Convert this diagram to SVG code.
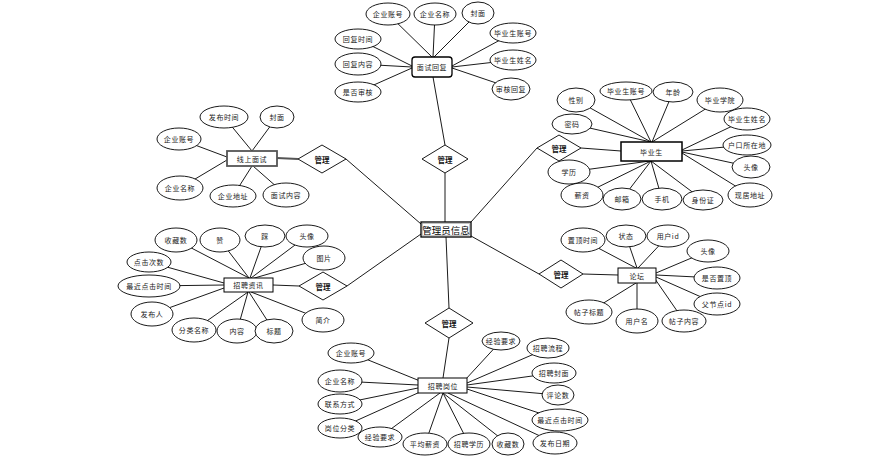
<svg xmlns="http://www.w3.org/2000/svg" width="870" height="466" viewBox="0 0 870 466">
<style>
.e{fill:#fff;stroke:#000;stroke-width:0.9}
.b{fill:#fff;stroke:#000;stroke-width:1}
.d{fill:#fff;stroke:#000;stroke-width:0.9}
.t{font-family:"Noto Sans CJK SC","Noto Sans",sans-serif;font-size:7px;fill:#222;text-anchor:middle;dominant-baseline:central;letter-spacing:0.6px}
.m{font-family:"Noto Sans CJK SC","Noto Sans",sans-serif;font-size:7.5px;fill:#111;text-anchor:middle;dominant-baseline:central;font-weight:bold}
.c line{stroke:#000;stroke-width:0.9}
</style>
<rect width="870" height="466" fill="#fff"/>
<g id="connectors" class="c">
<line x1="388" y1="14" x2="432" y2="57"/><line x1="435" y1="14" x2="433" y2="57"/><line x1="478" y1="13" x2="434" y2="57"/>
<line x1="513" y1="33" x2="452" y2="66"/><line x1="513" y1="60" x2="452" y2="67"/><line x1="511" y1="88" x2="452" y2="68"/>
<line x1="358" y1="39" x2="412" y2="66"/><line x1="358" y1="64" x2="412" y2="67"/><line x1="358" y1="92" x2="412" y2="68"/>
<line x1="433" y1="77" x2="445" y2="145"/><line x1="445" y1="173" x2="445" y2="222"/>
<line x1="446" y1="237" x2="449" y2="308"/><line x1="449" y1="338" x2="443" y2="378"/>
<line x1="351" y1="353" x2="420" y2="381"/><line x1="340" y1="381" x2="418" y2="385"/><line x1="340" y1="404" x2="418" y2="388"/><line x1="340" y1="428" x2="420" y2="392"/>
<line x1="380" y1="437" x2="440" y2="393"/><line x1="425" y1="444" x2="443" y2="393"/><line x1="469" y1="444" x2="443" y2="393"/><line x1="508" y1="444" x2="443" y2="393"/><line x1="555" y1="443" x2="448" y2="393"/>
<line x1="560" y1="420" x2="467" y2="389"/><line x1="558" y1="395" x2="467" y2="387"/><line x1="554" y1="373" x2="467" y2="385"/><line x1="548" y1="348" x2="467" y2="383"/><line x1="501" y1="341" x2="465" y2="380"/>
<line x1="471" y1="236" x2="539" y2="274"/><line x1="583" y1="274" x2="618" y2="275"/>
<line x1="583" y1="240" x2="636" y2="268"/><line x1="626" y1="236" x2="637" y2="268"/><line x1="668" y1="236" x2="638" y2="268"/>
<line x1="708" y1="251" x2="656" y2="273"/><line x1="717" y1="278" x2="656" y2="275"/><line x1="717" y1="304" x2="656" y2="277"/><line x1="684" y1="321" x2="655" y2="279"/>
<line x1="637" y1="321" x2="637" y2="283"/><line x1="589" y1="312" x2="636" y2="283"/>
<line x1="471" y1="222" x2="537" y2="148"/><line x1="581" y1="148" x2="621" y2="151"/>
<line x1="576" y1="100" x2="651" y2="142"/><line x1="626" y1="91" x2="651" y2="142"/><line x1="673" y1="92" x2="652" y2="142"/><line x1="720" y1="100" x2="652" y2="142"/><line x1="572" y1="124" x2="651" y2="142"/>
<line x1="747" y1="119" x2="682" y2="150"/><line x1="747" y1="145" x2="682" y2="151"/><line x1="751" y1="167" x2="682" y2="152"/><line x1="750" y1="195" x2="682" y2="153"/>
<line x1="703" y1="200" x2="651" y2="161"/><line x1="662" y1="199" x2="651" y2="161"/><line x1="622" y1="199" x2="651" y2="161"/><line x1="582" y1="195" x2="651" y2="161"/><line x1="569" y1="172" x2="650" y2="161"/>
<line x1="277" y1="158" x2="298" y2="159" style="stroke:#555;stroke-width:2"/><line x1="346" y1="159" x2="421" y2="224"/>
<line x1="224" y1="117" x2="252" y2="151"/><line x1="277" y1="117" x2="252" y2="151"/><line x1="179" y1="139" x2="227" y2="157"/><line x1="180" y1="188" x2="227" y2="160"/><line x1="233" y1="196" x2="252" y2="166"/><line x1="286" y1="195" x2="253" y2="166"/>
<line x1="273" y1="285" x2="299" y2="286"/><line x1="347" y1="286" x2="421" y2="234"/>
<line x1="176" y1="240" x2="249" y2="278"/><line x1="220" y1="240" x2="249" y2="278"/><line x1="265" y1="236" x2="250" y2="278"/><line x1="307" y1="236" x2="251" y2="278"/><line x1="324" y1="258" x2="251" y2="279"/>
<line x1="149" y1="262" x2="224" y2="283"/><line x1="149" y1="286" x2="224" y2="285"/><line x1="152" y1="314" x2="224" y2="288"/>
<line x1="194" y1="330" x2="248" y2="292"/><line x1="237" y1="331" x2="248" y2="292"/><line x1="274" y1="331" x2="249" y2="292"/><line x1="323" y1="320" x2="251" y2="292"/>
</g>
<!-- 面试回复 -->
<g id="msfh"><rect class="b" x="412" y="57" width="40" height="20" rx="3" style="stroke-width:1.3"/><text class="t" x="432" y="67">面试回复</text></g>
<g id="msfh-qyzh"><ellipse class="e" cx="388" cy="14" rx="22" ry="11"/><text class="t" x="388" y="14">企业账号</text></g>
<g id="msfh-qymc"><ellipse class="e" cx="435" cy="14" rx="21" ry="11"/><text class="t" x="435" y="14">企业名称</text></g>
<g id="msfh-fm"><ellipse class="e" cx="478" cy="13" rx="16" ry="11"/><text class="t" x="478" y="13">封面</text></g>
<g id="msfh-byszh"><ellipse class="e" cx="513" cy="33" rx="23" ry="10"/><text class="t" x="513" y="33">毕业生账号</text></g>
<g id="msfh-bysxm"><ellipse class="e" cx="513" cy="60" rx="23" ry="10"/><text class="t" x="513" y="60">毕业生姓名</text></g>
<g id="msfh-shhf"><ellipse class="e" cx="511" cy="89" rx="19" ry="11"/><text class="t" x="511" y="89">审核回复</text></g>
<g id="msfh-hfsj"><ellipse class="e" cx="358" cy="39" rx="23" ry="10"/><text class="t" x="358" y="39">回复时间</text></g>
<g id="msfh-hfnr"><ellipse class="e" cx="358" cy="64" rx="23" ry="11"/><text class="t" x="358" y="64">回复内容</text></g>
<g id="msfh-sfsh"><ellipse class="e" cx="358" cy="92" rx="23" ry="10"/><text class="t" x="358" y="92">是否审核</text></g>
<g id="gl1"><polygon class="d" points="422,159 445,145 468,159 445,173"/><text class="m" x="445" y="159">管理</text></g>
<!-- 管理员信息 -->
<g id="glyxx"><rect x="421" y="222" width="50" height="15" fill="#fff" stroke="#000" stroke-width="1.3"/><rect x="422.5" y="223.5" width="47" height="12" fill="none" stroke="#888" stroke-width="0.5"/><text x="446" y="229.5" style="font-family:'Noto Sans CJK SC',sans-serif;font-size:9.5px;text-anchor:middle;dominant-baseline:central;fill:#000">管理员信息</text></g>
<!-- 招聘岗位 -->
<g id="gl2"><polygon class="d" points="425,323 449,308 473,323 449,338"/><text class="m" x="449" y="323">管理</text></g>
<g id="zpgw"><rect class="b" x="418" y="378" width="49" height="15"/><text class="t" x="443" y="385.5">招聘岗位</text></g>
<g id="zpgw-qyzh"><ellipse class="e" cx="351" cy="353" rx="23" ry="10"/><text class="t" x="351" y="353">企业账号</text></g>
<g id="zpgw-qymc"><ellipse class="e" cx="340" cy="381" rx="22" ry="11"/><text class="t" x="340" y="381">企业名称</text></g>
<g id="zpgw-lxfs"><ellipse class="e" cx="340" cy="404" rx="22" ry="10"/><text class="t" x="340" y="404">联系方式</text></g>
<g id="zpgw-gwfl"><ellipse class="e" cx="340" cy="428" rx="22" ry="10"/><text class="t" x="340" y="428">岗位分类</text></g>
<g id="zpgw-jyyq2"><ellipse class="e" cx="380" cy="437" rx="22" ry="10"/><text class="t" x="380" y="437">经验要求</text></g>
<g id="zpgw-pjxz"><ellipse class="e" cx="425" cy="444" rx="22" ry="11"/><text class="t" x="425" y="444">平均薪资</text></g>
<g id="zpgw-zpxl"><ellipse class="e" cx="469" cy="444" rx="21" ry="11"/><text class="t" x="469" y="444">招聘学历</text></g>
<g id="zpgw-scs"><ellipse class="e" cx="508" cy="444" rx="16" ry="11"/><text class="t" x="508" y="444">收藏数</text></g>
<g id="zpgw-fbrq"><ellipse class="e" cx="555" cy="443" rx="22" ry="11"/><text class="t" x="555" y="443">发布日期</text></g>
<g id="zpgw-zjdjsj"><ellipse class="e" cx="560" cy="420" rx="28" ry="11"/><text class="t" x="560" y="420">最近点击时间</text></g>
<g id="zpgw-pls"><ellipse class="e" cx="558" cy="395" rx="16" ry="10"/><text class="t" x="558" y="395">评论数</text></g>
<g id="zpgw-zpfm"><ellipse class="e" cx="554" cy="373" rx="22" ry="10"/><text class="t" x="554" y="373">招聘封面</text></g>
<g id="zpgw-zplc"><ellipse class="e" cx="548" cy="348" rx="21" ry="10"/><text class="t" x="548" y="348">招聘流程</text></g>
<g id="zpgw-jyyq1"><ellipse class="e" cx="501" cy="341" rx="19" ry="9"/><text class="t" x="501" y="341">经验要求</text></g>
<!-- 论坛 -->
<g id="gl3"><polygon class="d" points="539,274 561,260 583,274 561,288"/><text class="m" x="561" y="274">管理</text></g>
<g id="lt"><rect class="b" x="618" y="268" width="38" height="15"/><text class="t" x="637" y="275.5">论坛</text></g>
<g id="lt-zdsj"><ellipse class="e" cx="583" cy="240" rx="22" ry="12"/><text class="t" x="583" y="240">置顶时间</text></g>
<g id="lt-zt"><ellipse class="e" cx="626" cy="236" rx="20" ry="11"/><text class="t" x="626" y="236">状态</text></g>
<g id="lt-yhid"><ellipse class="e" cx="668" cy="236" rx="21" ry="11"/><text class="t" x="668" y="236">用户id</text></g>
<g id="lt-tx"><ellipse class="e" cx="708" cy="251" rx="21" ry="11"/><text class="t" x="708" y="251">头像</text></g>
<g id="lt-sfzd"><ellipse class="e" cx="717" cy="278" rx="23" ry="11"/><text class="t" x="717" y="278">是否置顶</text></g>
<g id="lt-fjdid"><ellipse class="e" cx="717" cy="304" rx="23" ry="11"/><text class="t" x="717" y="304">父节点id</text></g>
<g id="lt-tznr"><ellipse class="e" cx="684" cy="321" rx="22" ry="11"/><text class="t" x="684" y="321">帖子内容</text></g>
<g id="lt-yhm"><ellipse class="e" cx="637" cy="321" rx="21" ry="12"/><text class="t" x="637" y="321">用户名</text></g>
<g id="lt-tzbt"><ellipse class="e" cx="589" cy="312" rx="23" ry="12"/><text class="t" x="589" y="312">帖子标题</text></g>
<!-- 毕业生 -->
<g id="gl4"><polygon class="d" points="537,148 559,135 581,148 559,161"/><text class="m" x="559" y="148">管理</text></g>
<g id="bys"><rect class="b" x="621" y="142" width="61" height="19" style="stroke-width:1.5"/><text class="t" x="651.5" y="151.5">毕业生</text></g>
<g id="bys-xb"><ellipse class="e" cx="576" cy="100" rx="19" ry="12"/><text class="t" x="576" y="100">性别</text></g>
<g id="bys-byszh"><ellipse class="e" cx="626" cy="91" rx="26" ry="9"/><text class="t" x="626" y="91">毕业生账号</text></g>
<g id="bys-nl"><ellipse class="e" cx="673" cy="92" rx="20" ry="10"/><text class="t" x="673" y="92">年龄</text></g>
<g id="bys-byxy"><ellipse class="e" cx="720" cy="100" rx="23" ry="12"/><text class="t" x="720" y="100">毕业学院</text></g>
<g id="bys-mm"><ellipse class="e" cx="572" cy="124" rx="20" ry="10"/><text class="t" x="572" y="124">密码</text></g>
<g id="bys-bysxm"><ellipse class="e" cx="747" cy="119" rx="23" ry="11"/><text class="t" x="747" y="119">毕业生姓名</text></g>
<g id="bys-hkszd"><ellipse class="e" cx="747" cy="145" rx="24" ry="10"/><text class="t" x="747" y="145">户口所在地</text></g>
<g id="bys-tx"><ellipse class="e" cx="751" cy="167" rx="19" ry="11"/><text class="t" x="751" y="167">头像</text></g>
<g id="bys-xjdz"><ellipse class="e" cx="750" cy="195" rx="22" ry="12"/><text class="t" x="750" y="195">现居地址</text></g>
<g id="bys-sfz"><ellipse class="e" cx="703" cy="200" rx="20" ry="10"/><text class="t" x="703" y="200">身份证</text></g>
<g id="bys-sj"><ellipse class="e" cx="662" cy="199" rx="20" ry="11"/><text class="t" x="662" y="199">手机</text></g>
<g id="bys-yx"><ellipse class="e" cx="622" cy="199" rx="19" ry="11"/><text class="t" x="622" y="199">邮箱</text></g>
<g id="bys-xz"><ellipse class="e" cx="582" cy="195" rx="21" ry="12"/><text class="t" x="582" y="195">薪资</text></g>
<g id="bys-xl"><ellipse class="e" cx="569" cy="172" rx="21" ry="12"/><text class="t" x="569" y="172">学历</text></g>
<!-- 线上面试 -->
<g id="gl5"><polygon class="d" points="298,159 322,145 346,159 322,173"/><text class="m" x="322" y="159">管理</text></g>
<g id="xsms"><rect class="b" x="227" y="151" width="50" height="15" style="stroke:#555;stroke-width:1.8"/><text class="t" x="252" y="158.5">线上面试</text></g>
<g id="xsms-fbsj"><ellipse class="e" cx="224" cy="117" rx="24" ry="11"/><text class="t" x="224" y="117">发布时间</text></g>
<g id="xsms-fm"><ellipse class="e" cx="277" cy="117" rx="17" ry="11"/><text class="t" x="277" y="117">封面</text></g>
<g id="xsms-qyzh"><ellipse class="e" cx="179" cy="139" rx="22" ry="11"/><text class="t" x="179" y="139">企业账号</text></g>
<g id="xsms-qymc"><ellipse class="e" cx="180" cy="188" rx="23" ry="12"/><text class="t" x="180" y="188">企业名称</text></g>
<g id="xsms-qydz"><ellipse class="e" cx="233" cy="196" rx="23" ry="11"/><text class="t" x="233" y="196">企业地址</text></g>
<g id="xsms-msnr"><ellipse class="e" cx="286" cy="195" rx="23" ry="12"/><text class="t" x="286" y="195">面试内容</text></g>
<!-- 招聘资讯 -->
<g id="gl6"><polygon class="d" points="299,286 323,272 347,286 323,300"/><text class="m" x="323" y="286">管理</text></g>
<g id="zpzx"><rect class="b" x="224" y="278" width="49" height="14"/><text class="t" x="248.5" y="285">招聘资讯</text></g>
<g id="zpzx-scs"><ellipse class="e" cx="176" cy="240" rx="21" ry="12"/><text class="t" x="176" y="240">收藏数</text></g>
<g id="zpzx-z"><ellipse class="e" cx="220" cy="240" rx="20" ry="12"/><text class="t" x="220" y="240">赞</text></g>
<g id="zpzx-c"><ellipse class="e" cx="265" cy="236" rx="20" ry="11"/><text class="t" x="265" y="236">踩</text></g>
<g id="zpzx-tx"><ellipse class="e" cx="307" cy="236" rx="21" ry="11"/><text class="t" x="307" y="236">头像</text></g>
<g id="zpzx-tp"><ellipse class="e" cx="324" cy="258" rx="21" ry="12"/><text class="t" x="324" y="258">图片</text></g>
<g id="zpzx-djcs"><ellipse class="e" cx="149" cy="262" rx="22" ry="10"/><text class="t" x="149" y="262">点击次数</text></g>
<g id="zpzx-zjdjsj"><ellipse class="e" cx="149" cy="286" rx="31" ry="11"/><text class="t" x="149" y="286">最近点击时间</text></g>
<g id="zpzx-fbr"><ellipse class="e" cx="152" cy="314" rx="21" ry="12"/><text class="t" x="152" y="314">发布人</text></g>
<g id="zpzx-flmc"><ellipse class="e" cx="194" cy="330" rx="22" ry="12"/><text class="t" x="194" y="330">分类名称</text></g>
<g id="zpzx-nr"><ellipse class="e" cx="237" cy="331" rx="20" ry="12"/><text class="t" x="237" y="331">内容</text></g>
<g id="zpzx-bt"><ellipse class="e" cx="274" cy="331" rx="19" ry="12"/><text class="t" x="274" y="331">标题</text></g>
<g id="zpzx-jj"><ellipse class="e" cx="323" cy="320" rx="21" ry="12"/><text class="t" x="323" y="320">简介</text></g>
</svg>
